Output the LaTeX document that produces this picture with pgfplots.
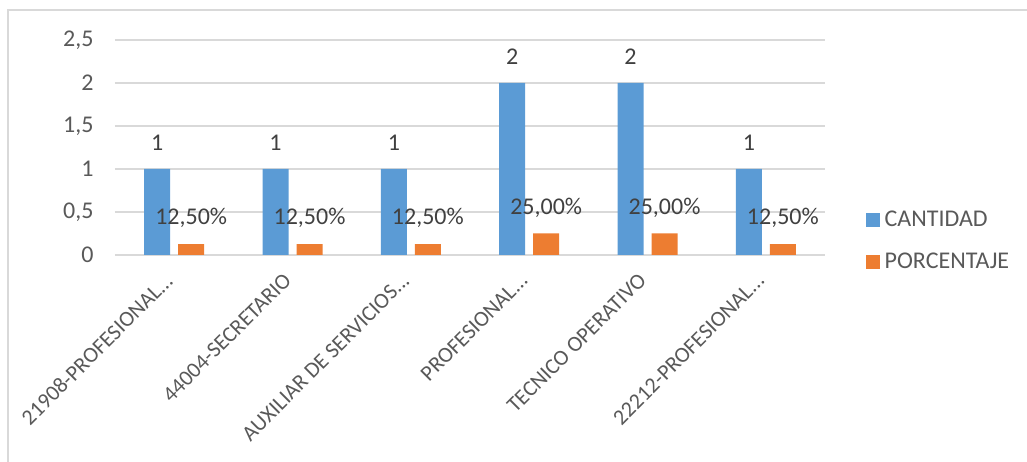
\documentclass[border=0pt]{standalone}
\usepackage{pgfplots}
\pgfplotsset{compat=1.18}
\usepackage{fontspec}
\setmainfont{Carlito}
\definecolor{cblue}{HTML}{5B9BD5}
\definecolor{corange}{HTML}{ED7D31}
\definecolor{cgrid}{HTML}{D9D9D9}
\definecolor{ctext}{HTML}{595959}
\definecolor{clabel}{HTML}{404040}
\begin{document}
\begin{tikzpicture}
\useasboundingbox (-115pt,-207pt) rectangle (912pt,255pt);
\draw[cgrid, line width=1.5pt] (-107pt,-210pt) -- (-107pt,245pt) -- (915pt,245pt);
\begin{axis}[
  at={(0pt,0pt)}, anchor=south west,
  scale only axis, width=710pt, height=215pt,
  xmin=-0.5, xmax=5.5, ymin=0, ymax=2.5,
  ybar=8pt, bar width=26pt,
  ytick={0,0.5,1,1.5,2,2.5},
  xtick={0,1,2,3,4,5},
  xticklabels={{21908-PROFESIONAL.{}.{}.},{44004-SECRETARIO},{AUXILIAR DE SERVICIOS.{}.{}.},{PROFESIONAL.{}.{}.},{TECNICO OPERATIVO},{22212-PROFESIONAL.{}.{}.}},
  /pgf/number format/use comma,
  /pgf/number format/assume math mode=true,
  major tick length=0pt,
  axis line style={draw=none},
  ymajorgrids, grid style={cgrid, line width=1.5pt},
  tick label style={font=\fontsize{24}{28}\selectfont, text=ctext},
  yticklabel style={xshift=-18pt},
  xticklabel style={font=\fontsize{22}{26}\selectfont, rotate=45, anchor=east, inner sep=0pt, xshift=-19pt, yshift=-12pt},
  clip=false,
  legend style={at={(1.057,0.067)}, anchor=west, draw=none, fill=none,
    font=\fontsize{24}{28}\selectfont, text=ctext, row sep=21pt,
    inner sep=0pt, nodes={inner sep=2pt}},
  legend cell align=left,
  legend image code/.code={\fill[#1] (0pt,-7pt) rectangle (14pt,7pt); \path (17pt,0pt);},
  every node near coord/.append style={font=\fontsize{24}{28}\selectfont, text=clabel, anchor=center, yshift=26pt},
]
\addplot[fill=cblue, draw=none, nodes near coords]
  coordinates {(0,1) (1,1) (2,1) (3,2) (4,2) (5,1)};
\addlegendentry{CANTIDAD}
\addplot[fill=corange, draw=none, nodes near coords, point meta=explicit symbolic]
  coordinates {(0,0.125) [12,50\%] (1,0.125) [12,50\%] (2,0.125) [12,50\%] (3,0.25) [25,00\%] (4,0.25) [25,00\%] (5,0.125) [12,50\%]};
\addlegendentry{PORCENTAJE}
\end{axis}
\end{tikzpicture}
\end{document}
